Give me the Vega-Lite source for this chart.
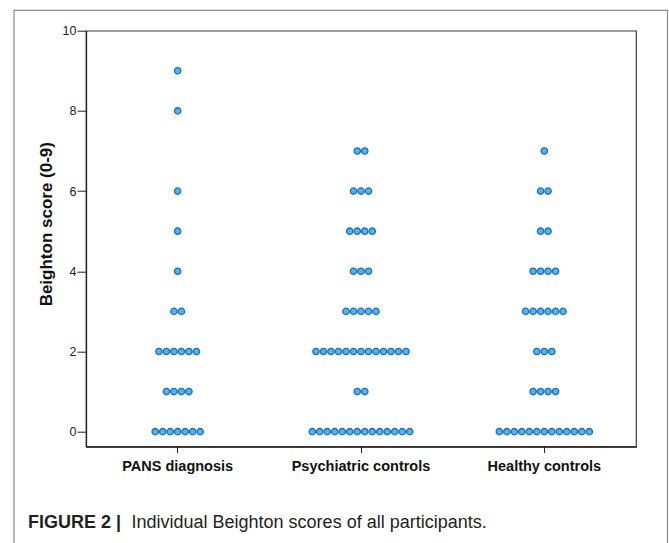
{
  "$schema": "https://vega.github.io/schema/vega-lite/v6.json",
  "width": 550,
  "height": 415.8,
  "autosize": {"type": "none"},
  "padding": {"left": 86, "top": 30.7, "right": 33, "bottom": 96.5},
  "background": "white",
  "title": {
    "text": "FIGURE 2 |",
    "orient": "bottom",
    "anchor": "start",
    "frame": "group",
    "dx": -58,
    "offset": 0,
    "baseline": "alphabetic",
    "dy": -16,
    "font": "Liberation Sans Narrow, Liberation Sans",
    "fontSize": 18,
    "fontWeight": "bold",
    "color": "#231f20"
  },
  "config": {
    "view": {"stroke": "#3a3a3a", "strokeWidth": 1.2},
    "font": "Liberation Sans"
  },
  "data": {
    "values": [
      {"group": "PANS diagnosis", "score": 0}, {"group": "PANS diagnosis", "score": 0}, {"group": "PANS diagnosis", "score": 0}, {"group": "PANS diagnosis", "score": 0}, {"group": "PANS diagnosis", "score": 0}, {"group": "PANS diagnosis", "score": 0}, {"group": "PANS diagnosis", "score": 0},
      {"group": "PANS diagnosis", "score": 1}, {"group": "PANS diagnosis", "score": 1}, {"group": "PANS diagnosis", "score": 1}, {"group": "PANS diagnosis", "score": 1},
      {"group": "PANS diagnosis", "score": 2}, {"group": "PANS diagnosis", "score": 2}, {"group": "PANS diagnosis", "score": 2}, {"group": "PANS diagnosis", "score": 2}, {"group": "PANS diagnosis", "score": 2}, {"group": "PANS diagnosis", "score": 2},
      {"group": "PANS diagnosis", "score": 3}, {"group": "PANS diagnosis", "score": 3},
      {"group": "PANS diagnosis", "score": 4},
      {"group": "PANS diagnosis", "score": 5},
      {"group": "PANS diagnosis", "score": 6},
      {"group": "PANS diagnosis", "score": 8},
      {"group": "PANS diagnosis", "score": 9},
      {"group": "Psychiatric controls", "score": 0}, {"group": "Psychiatric controls", "score": 0}, {"group": "Psychiatric controls", "score": 0}, {"group": "Psychiatric controls", "score": 0}, {"group": "Psychiatric controls", "score": 0}, {"group": "Psychiatric controls", "score": 0}, {"group": "Psychiatric controls", "score": 0}, {"group": "Psychiatric controls", "score": 0}, {"group": "Psychiatric controls", "score": 0}, {"group": "Psychiatric controls", "score": 0}, {"group": "Psychiatric controls", "score": 0}, {"group": "Psychiatric controls", "score": 0}, {"group": "Psychiatric controls", "score": 0}, {"group": "Psychiatric controls", "score": 0},
      {"group": "Psychiatric controls", "score": 1}, {"group": "Psychiatric controls", "score": 1},
      {"group": "Psychiatric controls", "score": 2}, {"group": "Psychiatric controls", "score": 2}, {"group": "Psychiatric controls", "score": 2}, {"group": "Psychiatric controls", "score": 2}, {"group": "Psychiatric controls", "score": 2}, {"group": "Psychiatric controls", "score": 2}, {"group": "Psychiatric controls", "score": 2}, {"group": "Psychiatric controls", "score": 2}, {"group": "Psychiatric controls", "score": 2}, {"group": "Psychiatric controls", "score": 2}, {"group": "Psychiatric controls", "score": 2}, {"group": "Psychiatric controls", "score": 2}, {"group": "Psychiatric controls", "score": 2},
      {"group": "Psychiatric controls", "score": 3}, {"group": "Psychiatric controls", "score": 3}, {"group": "Psychiatric controls", "score": 3}, {"group": "Psychiatric controls", "score": 3}, {"group": "Psychiatric controls", "score": 3},
      {"group": "Psychiatric controls", "score": 4}, {"group": "Psychiatric controls", "score": 4}, {"group": "Psychiatric controls", "score": 4},
      {"group": "Psychiatric controls", "score": 5}, {"group": "Psychiatric controls", "score": 5}, {"group": "Psychiatric controls", "score": 5}, {"group": "Psychiatric controls", "score": 5},
      {"group": "Psychiatric controls", "score": 6}, {"group": "Psychiatric controls", "score": 6}, {"group": "Psychiatric controls", "score": 6},
      {"group": "Psychiatric controls", "score": 7}, {"group": "Psychiatric controls", "score": 7},
      {"group": "Healthy controls", "score": 0}, {"group": "Healthy controls", "score": 0}, {"group": "Healthy controls", "score": 0}, {"group": "Healthy controls", "score": 0}, {"group": "Healthy controls", "score": 0}, {"group": "Healthy controls", "score": 0}, {"group": "Healthy controls", "score": 0}, {"group": "Healthy controls", "score": 0}, {"group": "Healthy controls", "score": 0}, {"group": "Healthy controls", "score": 0}, {"group": "Healthy controls", "score": 0}, {"group": "Healthy controls", "score": 0}, {"group": "Healthy controls", "score": 0},
      {"group": "Healthy controls", "score": 1}, {"group": "Healthy controls", "score": 1}, {"group": "Healthy controls", "score": 1}, {"group": "Healthy controls", "score": 1},
      {"group": "Healthy controls", "score": 2}, {"group": "Healthy controls", "score": 2}, {"group": "Healthy controls", "score": 2},
      {"group": "Healthy controls", "score": 3}, {"group": "Healthy controls", "score": 3}, {"group": "Healthy controls", "score": 3}, {"group": "Healthy controls", "score": 3}, {"group": "Healthy controls", "score": 3}, {"group": "Healthy controls", "score": 3},
      {"group": "Healthy controls", "score": 4}, {"group": "Healthy controls", "score": 4}, {"group": "Healthy controls", "score": 4}, {"group": "Healthy controls", "score": 4},
      {"group": "Healthy controls", "score": 5}, {"group": "Healthy controls", "score": 5},
      {"group": "Healthy controls", "score": 6}, {"group": "Healthy controls", "score": 6},
      {"group": "Healthy controls", "score": 7}
    ]
  },
  "layer": [
    {
      "data": {"values": [{"frame": "outer"}]},
      "mark": {"type": "rect", "fill": null, "stroke": "#8c8c8c", "strokeWidth": 1.2, "clip": false},
      "encoding": {
        "x": {"datum": -0.1309, "type": "quantitative", "scale": {"domain": [0, 1], "nice": false, "zero": false}, "axis": null},
        "x2": {"datum": 1.0573},
        "y": {"datum": 10.505, "type": "quantitative"},
        "y2": {"datum": -2.79}
      }
    },
    {
      "transform": [
        {"window": [{"op": "row_number", "as": "rank"}], "groupby": ["group", "score"]},
        {"joinaggregate": [{"op": "count", "as": "n"}], "groupby": ["group", "score"]},
        {"calculate": "datum.rank - (datum.n + 1) / 2", "as": "off"}
      ],
      "mark": {"type": "point", "shape": "circle", "filled": true, "size": 40, "fill": "#52b4ee", "stroke": "#1c6db5", "strokeWidth": 1.3, "opacity": 1},
      "encoding": {
        "x": {
          "field": "group",
          "type": "nominal",
          "sort": ["PANS diagnosis", "Psychiatric controls", "Healthy controls"],
          "scale": {"paddingInner": 0, "paddingOuter": 0},
          "axis": {
            "title": "Individual Beighton scores of all participants.",
            "titleFont": "Liberation Sans Narrow, Liberation Sans",
            "titleFontSize": 18,
            "titleFontWeight": "normal",
            "titleColor": "#231f20",
            "titleAlign": "left",
            "titleAnchor": "start",
            "titleBaseline": "alphabetic",
            "titleX": 45,
            "titleY": 80.5,
            "labelAngle": 0,
            "labelFontSize": 14.5,
            "labelFontWeight": "bold",
            "labelColor": "#111111",
            "labelPadding": 7,
            "tickSize": 6,
            "tickColor": "#222222",
            "domainColor": "#222222",
            "domainWidth": 1.3
          }
        },
        "xOffset": {"field": "off", "type": "quantitative", "scale": {"domain": [-12.222, 12.222], "range": [0, 183.333]}},
        "y": {
          "field": "score",
          "type": "quantitative",
          "scale": {"domain": [-0.37, 10], "nice": false, "zero": false},
          "axis": {
            "title": "Beighton score (0-9)",
            "titleFontSize": 17,
            "titleFontWeight": "bold",
            "titleColor": "#111111",
            "titleX": -40,
            "titleY": 193,
            "titleAlign": "center",
            "titleBaseline": "middle",
            "values": [0, 2, 4, 6, 8, 10],
            "labelFontSize": 12.5,
            "labelColor": "#222222",
            "labelPadding": 1,
            "tickSize": 9,
            "tickColor": "#222222",
            "domainColor": "#222222",
            "domainWidth": 1.3,
            "grid": false
          }
        }
      }
    }
  ],
  "resolve": {"scale": {"x": "independent"}}
}
